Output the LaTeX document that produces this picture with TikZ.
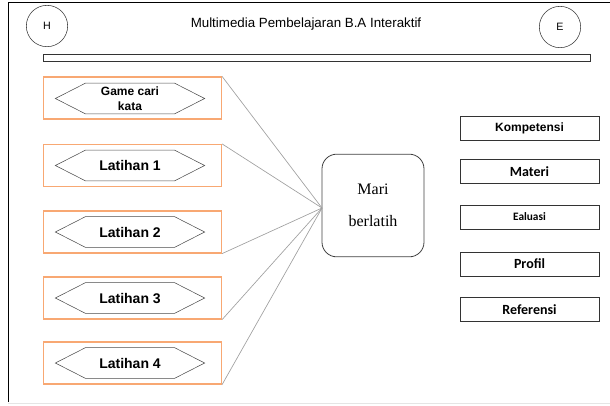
\documentclass[tikz,border=0pt]{standalone}
\usepackage{fontspec}
\setmainfont{Liberation Sans}
\newfontfamily\calfont{Carlito}
\newfontfamily\serfont{Liberation Serif}
\usetikzlibrary{shapes.symbols}
\definecolor{boxorange}{RGB}{248,168,115}
\definecolor{spokegray}{RGB}{160,160,160}
\begin{document}
\begin{tikzpicture}
[x=0.75pt, y=-0.75pt,
 ring/.style={circle, draw=black!80, minimum size=31pt, inner sep=0pt, font=\fontsize{8}{9}\selectfont},
 latbox/.style={draw=boxorange, line width=0.9pt, minimum width=133.5pt, minimum height=31.5pt, inner sep=0pt},
 hexa/.style={signal, signal to=west and east, signal pointer angle=54, draw=black!70,
   minimum width=112pt, minimum height=23pt, inner sep=0pt, align=center,
   font=\bfseries\fontsize{10.5}{11}\selectfont},
 menu/.style={draw=black!80, minimum width=104pt, minimum height=18pt, inner sep=0pt,
   font=\calfont\bfseries\fontsize{10.5}{12}\selectfont},
 spoke/.style={draw=spokegray, line width=0.5pt}]
\useasboundingbox (0,0) rectangle (610,405);
\draw (8,402) -- (8,2) -- (610,2);
\draw[black!10] (8,403) -- (610,403);
% header
\node[ring] (H) at (47,26) {H};
\node[ring] (E) at (560,27) {E};
\node[font=\fontsize{10}{12}\selectfont] (title) at (306,24) {Multimedia Pembelajaran B.A Interaktif};
\node[draw=black!80, minimum width=410pt, minimum height=5pt, inner sep=0pt] (bar) at (316.5,57.5) {};
% latihan
\node[latbox] (box1) at (132.5,98) {};
\node[latbox] (box2) at (132.5,165.5) {};
\node[latbox] (box3) at (132.5,232) {};
\node[latbox] (box4) at (132.5,298) {};
\node[latbox] (box5) at (132.5,363) {};
\node[hexa, font=\bfseries\fontsize{9}{11}\selectfont] (game) at (130,98.5) {Game cari\\kata};
\node[hexa] (lat1) at (130,165.5) {Latihan 1};
\node[hexa] (lat2) at (130,232) {Latihan 2};
\node[hexa] (lat3) at (130,298) {Latihan 3};
\node[hexa] (lat4) at (130,363) {Latihan 4};
% tengah
\node[draw=black!75, semithick, rounded corners=11pt, minimum width=76.5pt, minimum height=77pt,
  align=center, font=\serfont\fontsize{12}{24}\selectfont] (mari) at (373,205.5) {Mari\\berlatih};
\coordinate (hub) at (322,208);
\draw[spoke] (box1.north east) -- (hub);
\draw[spoke] (box2.north east) -- (hub);
\draw[spoke] (box3.south east) -- (hub);
\draw[spoke] (box4.south east) -- (hub);
\draw[spoke] (box5.south east) -- (hub);
% menu
\node[menu, font=\bfseries\fontsize{9}{11}\selectfont] (komp) at (529.5,128) {Kompetensi};
\node[menu] (materi) at (529.5,171.5) {Materi};
\node[menu, font=\calfont\bfseries\fontsize{8.5}{10}\selectfont] (evaluasi) at (529.5,217) {Ealuasi};
\node[menu] (profil) at (529.5,264) {Profil};
\node[menu] (ref) at (529.5,309.5) {Referensi};
\end{tikzpicture}
\end{document}
